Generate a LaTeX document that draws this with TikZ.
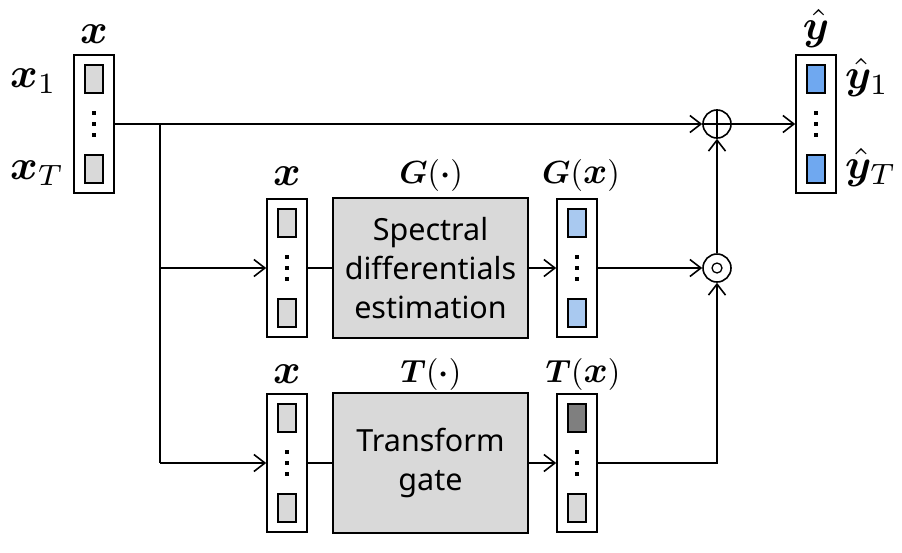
\documentclass[tikz,border=0pt]{standalone}
\usepackage{amsmath}
\usepackage{bm}
\usepackage{graphicx}
\usepackage{fontspec}
\setsansfont{Noto Sans}
\usetikzlibrary{arrows.meta,calc}
\definecolor{cellgray}{HTML}{D9D9D9}
\definecolor{lightblue}{HTML}{A9C9F0}
\definecolor{brightblue}{HTML}{6FA8F0}
\definecolor{darkcell}{HTML}{7F7F7F}
\newcommand{\mlab}[1]{\scalebox{3.2}{$#1$}}
\newcommand{\xlab}[1]{\scalebox{4.2}{$#1$}}
\newcommand{\bigx}{\scalebox{1.15}{$\bm{x}$}}
\tikzset{
  vecbox/.style={draw, line width=1.6pt, minimum width=40pt, minimum height=138pt, inner sep=0pt, fill=white},
  cellbox/.style={draw, line width=1.3pt, minimum width=18pt, minimum height=28pt, inner sep=0pt},
  dotbox/.style={fill=black, minimum size=4pt, inner sep=0pt},
  blockbox/.style={draw, line width=1.6pt, fill=cellgray, minimum width=195pt, minimum height=140pt, inner sep=0pt, align=center, font=\sffamily\fontsize{30.5}{39}\selectfont},
  lbl/.style={inner sep=0pt},
  wire/.style={line width=1.6pt},
  arr/.style={line width=1.6pt, -{Straight Barb[length=11pt,width=17pt,line width=1.6pt]}},
  opcirc/.style={draw, circle, line width=1.6pt, minimum size=28pt, inner sep=0pt}
}
\newcommand{\myvec}[5]{%
  \node[vecbox] (#1) at (#2) {};
  \node[cellbox, fill=#3] (#1top) at ($(#1.center)+(0,-45)$) {};
  \node[cellbox, fill=#4] (#1bot) at ($(#1.center)+(0,45)$) {};
  \node[dotbox] (#1d1) at ($(#1.center)+(0,-11)$) {};
  \node[dotbox] (#1d2) at ($(#1.center)+(0,0)$) {};
  \node[dotbox] (#1d3) at ($(#1.center)+(0,11)$) {};
}
\begin{document}
\begin{tikzpicture}[x=1pt,y=-1pt]
\useasboundingbox (0,0) rectangle (902,552);
% vectors
\myvec{xin}{94,124}{cellgray}{cellgray}{}
\myvec{yout}{816,124}{brightblue}{brightblue}{}
\myvec{xmid}{287,268}{cellgray}{cellgray}{}
\myvec{gx}{577,268}{lightblue}{lightblue}{}
\myvec{xbot}{287,463}{cellgray}{cellgray}{}
\myvec{tx}{577,463}{darkcell}{cellgray}{}
% blocks
\node[blockbox] (G) at (430.5,268) {Spectral\\differentials\\estimation};
\node[blockbox] (T) at (430.5,463) {Transform\\gate};
% operators
\node[opcirc] (plus) at (717,124) {};
\draw[wire] (plus.north) -- (plus.south) (plus.west) -- (plus.east);
\node[opcirc] (odot) at (717,268) {};
\node[draw, circle, line width=1.3pt, minimum size=10pt, inner sep=0pt] (odotin) at (odot.center) {};
% labels
\node[lbl, anchor=base] (lxin) at (94,43) {\xlab{\bm{x}}};
\node[lbl, anchor=base west] (lx1) at (10,87) {\xlab{\bm{x}_1}};
\node[lbl, anchor=base west] (lxT) at (10,179) {\xlab{\bm{x}_T}};
\node[lbl, anchor=base] (lyout) at (816,39) {\xlab{\hat{\bm{y}}}};
\node[lbl, anchor=base west] (ly1) at (845,88) {\xlab{\hat{\bm{y}}_1}};
\node[lbl, anchor=base west] (lyT) at (845,178) {\xlab{\hat{\bm{y}}_T}};
\node[lbl, anchor=base] (lxmid) at (287,185) {\xlab{\bm{x}}};
\node[lbl, anchor=base] (lG) at (431,183) {\mlab{\bm{G}(\bm{\cdot})}};
\node[lbl, anchor=base] (lgx) at (581,183) {\mlab{\bm{G}(\bigx)}};
\node[lbl, anchor=base] (lxbot) at (287,383) {\xlab{\bm{x}}};
\node[lbl, anchor=base] (lT) at (431,382) {\mlab{\bm{T}(\bm{\cdot})}};
\node[lbl, anchor=base] (ltx) at (583,382) {\mlab{\bm{T}(\bigx)}};
% connectors
\coordinate (br) at (160,124);
\coordinate (b1) at (160,268);
\coordinate (b2) at (160,463);
\draw[arr] (xin.east) -- (plus.west);
\draw[wire] (br) -- (b2);
\draw[arr] (b1) -- (xmid.west);
\draw[arr] (b2) -- (xbot.west);
\draw[wire] (xmid.east) -- (G.west);
\draw[wire] (xbot.east) -- (T.west);
\draw[arr] (G.east) -- (gx.west);
\draw[arr] (T.east) -- (tx.west);
\draw[arr] (gx.east) -- (odot.west);
\draw[arr] (tx.east) -| (odot.south);
\draw[arr] (odot.north) -- (plus.south);
\draw[arr] (plus.east) -- (yout.west);
\end{tikzpicture}
\end{document}
